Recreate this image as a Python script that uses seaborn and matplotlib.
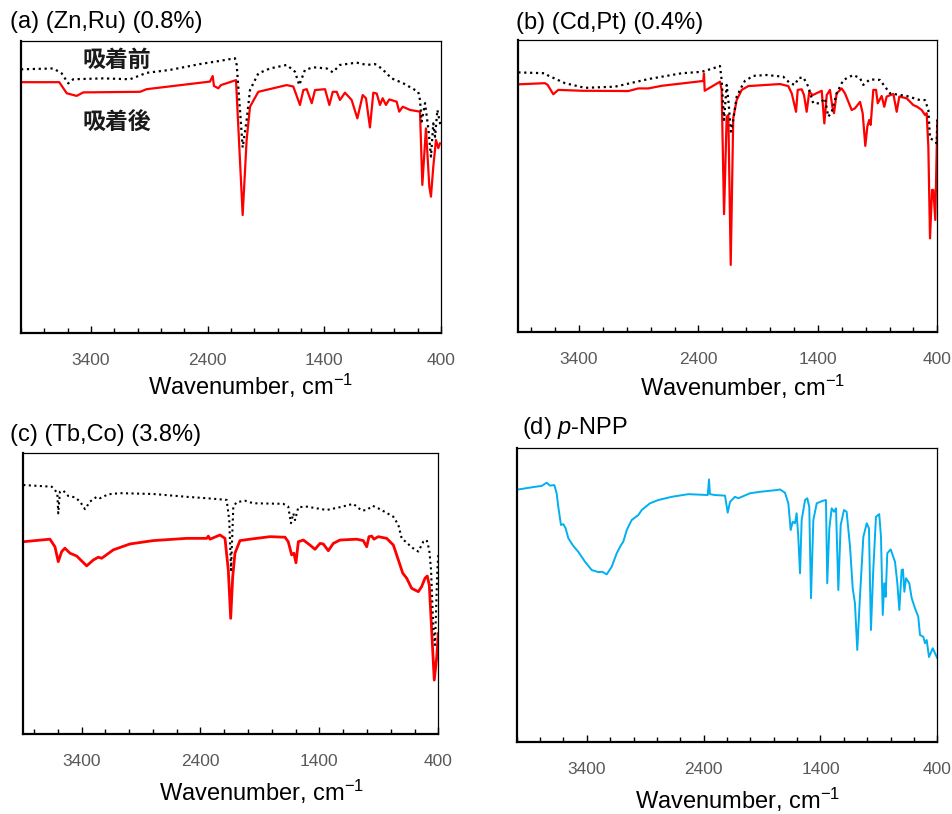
import numpy as np
import pandas as pd
import matplotlib
matplotlib.use("Agg")
import matplotlib.pyplot as plt
from matplotlib.ticker import FixedLocator, NullFormatter
import seaborn as sns

# ---------------- spectra (wavenumber in cm-1, transmittance in a.u.) ----------------
# (a) (Zn,Ru)
a_before_wn = [4000, 3723, 3651, 3595, 3552, 3295, 3066, 2923, 2723, 2466, 2294, 2166, 2151, 2100,
               2066, 2037, 1966, 1866, 1723, 1652, 1615, 1566, 1495, 1380, 1328, 1266, 1123, 1037,
               966, 909, 823, 723, 595, 580, 566, 537, 509, 486, 466, 451, 431, 414, 402]
a_before_t = [90.3, 90.6, 88.9, 85.5, 86.9, 87.2, 86.9, 89.1, 90.1, 92.1, 93.2, 94.1, 91.8, 63.5,
              72.9, 83.2, 88.9, 90.6, 91.8, 89.5, 84.9, 90.1, 91.0, 90.6, 89.3, 91.8, 92.6, 91.8,
              92.1, 90.6, 87.2, 85.5, 82.6, 79.8, 72.4, 78.7, 70.1, 60.4, 71.8, 67.2, 76.4, 72.9, 70.7]
a_after_wn = [4000, 3672, 3608, 3523, 3466, 2980, 2923, 2380, 2357, 2346, 2309, 2286, 2157, 2100,
              2066, 2037, 1966, 1723, 1666, 1609, 1580, 1551, 1508, 1480, 1394, 1357, 1328, 1294,
              1266, 1223, 1166, 1117, 1071, 1043, 1009, 980, 951, 923, 900, 872, 843, 780, 758,
              728, 666, 580, 560, 529, 500, 486, 466, 443, 423, 409]
a_after_t = [85.9, 85.9, 82.1, 81.2, 82.4, 82.6, 83.5, 86.1, 88.0, 84.6, 83.8, 84.9, 86.6, 40.4,
             66.1, 77.5, 82.6, 84.9, 84.4, 78.1, 83.2, 83.5, 78.7, 83.2, 83.5, 78.1, 82.6, 82.6,
             79.8, 82.3, 79.8, 73.5, 81.5, 80.4, 70.4, 82.3, 82.0, 78.1, 80.4, 78.1, 80.0, 79.2,
             75.8, 77.5, 76.4, 75.8, 50.7, 70.1, 50.1, 46.7, 57.0, 66.1, 63.3, 65.0]

# (b) (Cd,Pt)
b_before_wn = [3909, 3686, 3658, 3518, 3351, 3099, 2820, 2541, 2373, 2276, 2220, 2206, 2186, 2164,
               2150, 2128, 2109, 2080, 2038, 2011, 1941, 1829, 1690, 1634, 1592, 1564, 1522, 1480,
               1439, 1382, 1341, 1313, 1284, 1243, 1187, 1104, 1047, 1020, 964, 880, 796, 656,
               545, 503, 475, 461, 433, 405, 400]
b_before_t = [88.9, 88.6, 87.8, 85.2, 83.6, 84.0, 86.6, 88.6, 89.1, 90.3, 91.1, 86.3, 72.6, 84.6,
              79.4, 68.6, 72.6, 80.6, 84.0, 86.0, 87.7, 88.0, 87.4, 85.2, 84.6, 86.9, 87.2, 84.0,
              78.3, 78.3, 80.0, 73.7, 75.4, 81.7, 86.3, 88.0, 86.9, 84.6, 86.5, 86.3, 81.7, 80.8,
              79.4, 79.4, 76.0, 66.3, 65.7, 64.6, 72.6]
b_after_wn = [3909, 3686, 3663, 3616, 3574, 3378, 2988, 2904, 2820, 2708, 2373, 2360, 2354, 2348,
              2220, 2206, 2186, 2164, 2150, 2130, 2109, 2080, 2038, 1983, 1717, 1648, 1619, 1583,
              1569, 1536, 1516, 1494, 1472, 1444, 1368, 1346, 1326, 1299, 1279, 1265, 1243, 1201,
              1173, 1117, 1089, 1047, 1025, 1003, 986, 970, 958, 936, 913, 899, 866, 844, 824,
              768, 740, 718, 656, 601, 568, 531, 503, 489, 475, 461, 444, 433, 417, 400]
b_after_t = [84.8, 85.2, 84.6, 81.4, 82.9, 82.6, 82.5, 83.4, 83.4, 84.3, 85.9, 85.9, 88.5, 82.6,
             85.7, 82.9, 40.3, 73.7, 74.3, 22.9, 73.2, 79.4, 82.9, 84.2, 84.9, 84.2, 81.7, 75.4,
             82.9, 83.1, 81.1, 75.4, 82.3, 81.1, 82.6, 71.4, 81.1, 82.9, 77.1, 74.9, 81.7, 83.4,
             81.7, 76.0, 76.6, 78.8, 74.9, 63.7, 70.3, 72.6, 70.9, 82.9, 82.9, 78.3, 80.8, 77.1,
             80.6, 81.5, 75.4, 80.6, 80.0, 77.7, 77.1, 76.0, 74.3, 74.9, 63.4, 32.0, 48.6, 48.6,
             38.3, 72.6]

# (c) (Tb,Co)
c_before_wn = [3890, 3651, 3624, 3604, 3596, 3582, 3554, 3512, 3455, 3413, 3371, 3329, 3273, 3245,
               3175, 3077, 2797, 2516, 2348, 2236, 2180, 2158, 2143, 2124, 2095, 2026, 1956, 1704,
               1662, 1639, 1619, 1605, 1577, 1507, 1339, 1227, 1115, 1044, 1002, 952, 890, 778,
               736, 708, 666, 624, 568, 526, 498, 476, 461, 442, 428, 408, 400]
c_before_t = [88.7, 88.1, 86.9, 85.8, 78.6, 86.3, 86.7, 84.8, 84.3, 82.8, 80.1, 82.8, 84.5, 84.0,
              85.4, 85.8, 85.5, 84.5, 84.0, 83.6, 83.4, 76.2, 58.4, 81.0, 82.6, 83.1, 82.2, 82.0,
              81.0, 75.1, 78.6, 76.2, 80.8, 81.0, 79.8, 80.8, 82.0, 79.6, 79.8, 81.3, 80.1, 77.4,
              74.5, 69.7, 68.2, 66.5, 65.0, 68.5, 69.1, 65.6, 58.4, 38.2, 31.7, 58.4, 63.8]
c_after_wn = [3890, 3666, 3624, 3596, 3567, 3540, 3497, 3441, 3357, 3301, 3259, 3231, 3133, 2993,
              2797, 2516, 2348, 2334, 2320, 2236, 2194, 2166, 2146, 2129, 2110, 2068, 1984, 1815,
              1689, 1662, 1633, 1614, 1597, 1577, 1535, 1479, 1437, 1395, 1367, 1325, 1283, 1227,
              1086, 1031, 1002, 983, 960, 941, 905, 834, 778, 736, 699, 666, 624, 568, 540, 512,
              493, 476, 456, 434, 413, 400]
c_after_t = [68.5, 69.4, 66.7, 61.4, 65.0, 66.2, 64.4, 63.4, 59.9, 62.0, 63.0, 62.6, 65.6, 67.7,
             68.9, 69.7, 69.7, 70.5, 69.4, 70.9, 69.7, 58.4, 41.2, 56.0, 64.4, 68.9, 69.4, 70.3,
             70.1, 68.5, 63.8, 64.4, 61.0, 68.5, 69.1, 67.3, 65.8, 67.9, 67.7, 65.3, 67.9, 69.1,
             69.4, 68.9, 66.7, 70.3, 70.5, 69.4, 70.3, 69.7, 67.3, 62.0, 57.3, 55.5, 51.9, 50.7,
             52.5, 55.5, 56.3, 53.1, 37.1, 19.2, 27.5, 35.9]

# (d) p-NPP
d_wn = [3986, 3843, 3786, 3743, 3715, 3678, 3658, 3644, 3621, 3601, 3581, 3558, 3516, 3473, 3415,
        3358, 3302, 3267, 3230, 3187, 3144, 3107, 3088, 3058, 3016, 2959, 2930, 2859, 2788, 2673,
        2531, 2365, 2354, 2346, 2303, 2217, 2194, 2174, 2132, 2103, 2003, 1918, 1775, 1746, 1704,
        1675, 1655, 1638, 1618, 1604, 1590, 1575, 1561, 1532, 1513, 1496, 1481, 1461, 1432, 1376,
        1353, 1342, 1324, 1304, 1284, 1267, 1247, 1227, 1199, 1176, 1147, 1124, 1105, 1085, 1062,
        1033, 1004, 985, 968, 948, 925, 897, 882, 867, 854, 842, 828, 799, 762, 742, 725, 705, 694,
        682, 668, 640, 619, 591, 563, 548, 520, 505, 491, 471, 439, 420, 400]
d_t = [86.0, 86.9, 87.2, 88.3, 87.3, 87.5, 84.7, 80.1, 73.9, 74.2, 72.8, 69.4, 66.8, 64.8, 61.4,
       58.6, 57.9, 58.0, 57.1, 59.7, 64.3, 67.1, 68.2, 72.2, 75.6, 77.3, 79.0, 81.3, 82.4, 83.5,
       84.4, 84.1, 89.4, 84.4, 84.1, 83.9, 78.1, 81.8, 83.5, 83.0, 84.7, 85.2, 85.8, 86.0, 84.9,
       81.3, 72.2, 75.0, 74.5, 77.9, 69.9, 57.5, 75.6, 82.4, 83.0, 80.1, 49.0, 75.6, 81.3, 82.2,
       82.4, 54.1, 72.8, 79.6, 78.4, 79.6, 51.8, 73.9, 79.0, 78.4, 66.5, 52.4, 47.3, 31.4, 49.5,
       69.9, 74.5, 72.8, 38.2, 58.6, 76.7, 77.6, 69.9, 43.3, 54.1, 49.5, 64.3, 65.6, 61.4, 54.1,
       45.0, 58.6, 58.8, 51.2, 55.8, 54.1, 49.0, 45.6, 42.7, 36.5, 35.9, 33.7, 34.8, 29.0, 32.0,
       30.3, 28.6]

titles = ["(a) (Zn,Ru) (0.8%)", "(b) (Cd,Pt) (0.4%)", "(c) (Tb,Co) (3.8%)", "(d) $\\mathit{p}$-NPP"]
xlabel = "Wavenumber, cm$^{\\mathregular{-1}}$"
major_ticks = [3400, 2400, 1400, 400]
before_label, after_label = "吸着前", "吸着後"

RED = "#FF0000"
BLUE = "#00B0F0"
TICK_GRAY = "#595959"

sns.set_theme(style="white")
plt.rcParams["font.family"] = ["Liberation Sans", "Noto Sans CJK JP", "DejaVu Sans"]
plt.rcParams["mathtext.fontset"] = "custom"
plt.rcParams["mathtext.rm"] = "Liberation Sans"
plt.rcParams["mathtext.it"] = "Liberation Sans:italic"

W, H = 953, 814
fig = plt.figure(figsize=(W / 100, H / 100), dpi=100)


def px_axes(left, top, right, bottom):
    return fig.add_axes([left / W, 1 - bottom / H, (right - left) / W, (bottom - top) / H])


panels = [
    dict(box=(21, 41, 441, 333), xlim=(4000, 400), title_xy=(10, 22), xl=(0.548, -0.182)),
    dict(box=(518.3, 40, 937.3, 331.7), xlim=(3909, 400), title_xy=(516, 23), xl=(0.536, -0.19)),
    dict(box=(23.3, 453.3, 438.3, 734), xlim=(3890, 400), title_xy=(10, 435), xl=(0.575, -0.205)),
    dict(box=(516.7, 448.3, 937.3, 742.3), xlim=(4000, 400), title_xy=(522, 428), xl=(0.525, -0.195)),
]

series = [
    [(a_after_wn, a_after_t, RED, "-", 1.6), (a_before_wn, a_before_t, "black", ":", 1.6)],
    [(b_after_wn, b_after_t, RED, "-", 1.6), (b_before_wn, b_before_t, "black", ":", 1.6)],
    [(c_after_wn, c_after_t, RED, "-", 2.0), (c_before_wn, c_before_t, "black", ":", 1.5)],
    [(d_wn, d_t, BLUE, "-", 1.4)],
]

axes = []
for p, ser in zip(panels, series):
    ax = px_axes(*p["box"])
    axes.append(ax)
    for wn, t, col, ls, lw in ser:
        df = pd.DataFrame({"wn": wn, "t": t})
        sns.lineplot(data=df, x="wn", y="t", ax=ax, color=col, linestyle=ls, linewidth=lw,
                     estimator=None, sort=False)
    ax.set_xlim(*p["xlim"])
    ax.set_ylim(0, 100)
    ax.set_yticks([])
    ax.set_ylabel("")
    hi = max(p["xlim"])
    ax.xaxis.set_major_locator(FixedLocator(major_ticks))
    ax.xaxis.set_minor_locator(FixedLocator([v for v in range(400, int(hi) + 1, 200)
                                             if v not in major_ticks]))
    ax.xaxis.set_minor_formatter(NullFormatter())
    ax.tick_params(axis="x", which="major", direction="in", length=5, width=1, color="black",
                   labelsize=12.5, labelcolor=TICK_GRAY, pad=14.5, bottom=True)
    ax.tick_params(axis="x", which="minor", direction="in", length=3.5, width=1, color="black",
                   bottom=True)
    for side in ("left", "bottom"):
        ax.spines[side].set_linewidth(1.6)
        ax.spines[side].set_color("black")
    for side in ("top", "right"):
        ax.spines[side].set_linewidth(0.9)
        ax.spines[side].set_color("black")
    ax.set_xlabel(xlabel, fontsize=17, color="black")
    ax.xaxis.set_label_coords(*p["xl"])
    ax.xaxis.label.set_va("center")

for p, title in zip(panels, titles):
    tx, ty = p["title_xy"]
    fig.text(tx / W, 1 - ty / H, title, fontsize=17, ha="left", va="center", color="black")

for label, ypos in ((before_label, 0.935), (after_label, 0.7226)):
    axes[0].text(0.2286, ypos, label, transform=axes[0].transAxes, ha="center", va="center",
                 fontsize=16.5, fontweight="bold", family=["Noto Sans CJK JP"], color="#1a1a1a")

fig.savefig("out.png", dpi=100, facecolor="white")
